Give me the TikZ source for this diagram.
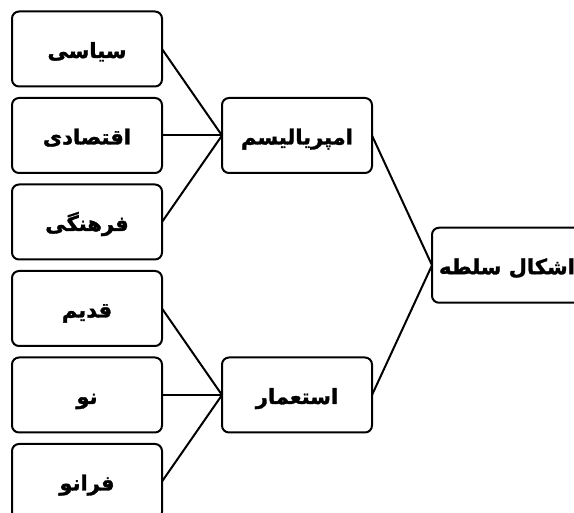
\documentclass[tikz,border=0pt]{standalone}
\usepackage{fontspec}
\TeXXeTstate=1
\newfontfamily\arabicfont[Script=Arabic, BoldFont={DejaVu Sans Bold}, BoldFeatures={FakeBold=1.5}]{DejaVu Sans}
\usetikzlibrary{positioning}

\tikzset{
	box/.style={draw, line width=2pt, rounded corners=7pt, outer sep=0pt, inner sep=0pt,
		minimum width=150pt, minimum height=75pt, text height=22pt, text depth=4pt,
		font=\arabicfont\bfseries\fontsize{21}{24}\selectfont},
	link/.style={line width=2pt}
}

\begin{document}
\begin{tikzpicture}[x=1pt,y=-1pt]
	\useasboundingbox (0,0) rectangle (574,513);
	
	% Left column
	\node [box] at (87,49) (siasi) {\beginR سیاسی\endR};
	\node [box, below=11.5pt of siasi] (eghtesadi) {\beginR اقتصادی\endR};
	\node [box, below=11.5pt of eghtesadi] (farhangi) {\beginR فرهنگی\endR};
	\node [box, below=11.5pt of farhangi] (ghadim) {\beginR قدیم\endR};
	\node [box, below=11.5pt of ghadim] (no) {\beginR نو\endR};
	\node [box, below=11.5pt of no] (farano) {\beginR فرانو\endR};
	
	% Middle column
	\node [box, right=60pt of eghtesadi] (imperialism) {\beginR امپریالیسم\endR};
	\node [box, right=60pt of no] (esteamar) {\beginR استعمار\endR};
	
	% Root
	\path (imperialism.east) -- (esteamar.east) coordinate [midway] (midroot);
	\node [box, right=60pt of midroot] (soltah) {\beginR اشکال سلطه\endR};
	
	% Connections
	\draw [link] (siasi.east) -- (imperialism.west);
	\draw [link] (eghtesadi.east) -- (imperialism.west);
	\draw [link] (farhangi.east) -- (imperialism.west);
	\draw [link] (ghadim.east) -- (esteamar.west);
	\draw [link] (no.east) -- (esteamar.west);
	\draw [link] (farano.east) -- (esteamar.west);
	\draw [link] (imperialism.east) -- (soltah.west);
	\draw [link] (esteamar.east) -- (soltah.west);
\end{tikzpicture}
\end{document}
